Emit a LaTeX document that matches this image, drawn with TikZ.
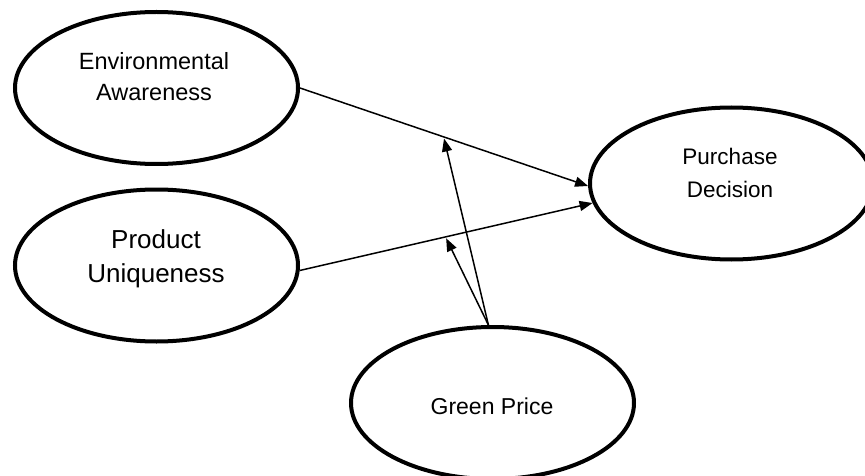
\documentclass[tikz,border=0pt]{standalone}
\usepackage{fontspec}
\setmainfont{Liberation Sans}
\usetikzlibrary{shapes.geometric,arrows.meta,calc}
\begin{document}
\begin{tikzpicture}[x=1pt,y=-1pt,
  ell/.style={ellipse, draw, line width=4pt, minimum width=283pt, minimum height=152pt, inner sep=0pt},
  lbl/.style={align=center, inner sep=0pt},
  arr/.style={line width=1.5pt, -{Triangle[length=13pt,width=10pt]}}]
\useasboundingbox (0,0) rectangle (865,476);
\begin{scope}
\clip (0,0) rectangle (865,476);
\node[ell] (ea) at (156.5,88) {};
\node[ell] (pu) at (156.5,265.5) {};
\node[ell] (pd) at (731.5,183.5) {};
\node[ell] (gp) at (492.5,403) {};
\node[lbl, font=\fontsize{23.5}{31}\selectfont] (eat) at (154,77) {Environmental\\Awareness};
\node[lbl, font=\fontsize{26}{34}\selectfont] (put) at (156,259) {Product\\Uniqueness};
\node[lbl, font=\fontsize{22.5}{33}\selectfont] (pdt) at (730,172.5) {Purchase\\Decision};
\node[lbl, font=\fontsize{23}{33}\selectfont] (gpt) at (492,406) {Green Price};
\coordinate (m1) at ($(ea.east)!0.5!(pd.181)+(0,1.5)$);
\coordinate (m2) at ($(pu.-2)!0.5!(pd.188)+(0,1.5)$);
\draw[arr] (ea.east) -- (pd.181);
\draw[arr] (pu.-2) -- (pd.188);
\draw[arr] (gp.93) -- (m1);
\draw[arr] (gp.93) -- (m2);
\end{scope}
\end{tikzpicture}
\end{document}
